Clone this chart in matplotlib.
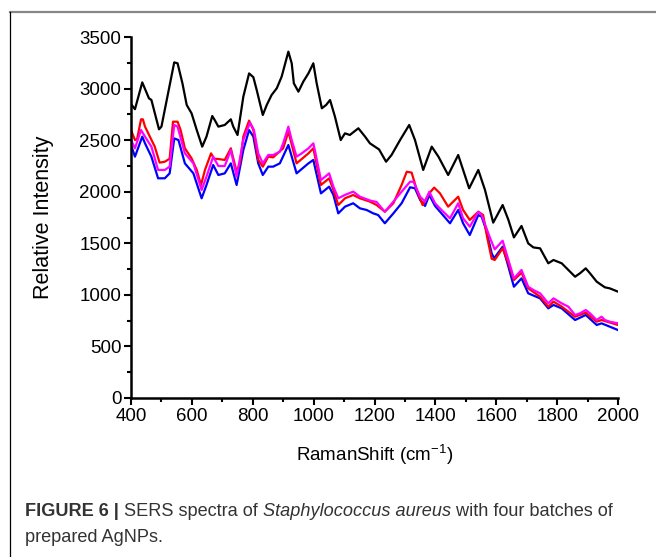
import matplotlib
matplotlib.use("Agg")
import matplotlib.pyplot as plt
from matplotlib.ticker import MultipleLocator
from matplotlib.lines import Line2D

plt.rcParams['font.family'] = ['Liberation Sans', 'DejaVu Sans']
plt.rcParams['mathtext.fontset'] = 'custom'
plt.rcParams['mathtext.rm'] = 'Liberation Sans'
plt.rcParams['mathtext.it'] = 'Liberation Sans:italic'
plt.rcParams['mathtext.bf'] = 'Liberation Sans:bold'

# ---------------- data ----------------
black_x = [400, 413, 437, 459, 467, 492, 500, 542, 553, 569, 583, 599, 616, 634, 648, 667, 675, 687,
           708, 728, 736, 750, 769, 788, 802, 813, 833, 846, 862, 879, 895, 917, 928, 935, 950, 966,
           983, 999, 1010, 1027, 1041, 1054, 1070, 1089, 1103, 1119, 1147, 1169, 1185, 1215, 1238,
           1256, 1284, 1314, 1333, 1360, 1388, 1410, 1442, 1475, 1511, 1541, 1563, 1590, 1621, 1640,
           1658, 1683, 1705, 1722, 1744, 1771, 1788, 1815, 1837, 1859, 1875, 1894, 1908, 1930, 1946,
           1957, 1973, 2000]
black_y = [2850, 2800, 3060, 2905, 2890, 2605, 2631, 3254, 3245, 3051, 2841, 2760, 2598, 2437, 2534,
           2734, 2695, 2631, 2647, 2702, 2631, 2550, 2921, 3147, 3110, 2986, 2744, 2841, 2938, 3003,
           3116, 3358, 3245, 3051, 2970, 3067, 3148, 3245, 3051, 2809, 2841, 2889, 2728, 2501, 2566,
           2550, 2615, 2534, 2469, 2410, 2291, 2356, 2501, 2647, 2501, 2211, 2437, 2340, 2162, 2356,
           2033, 2211, 2017, 1700, 1871, 1726, 1557, 1668, 1499, 1460, 1451, 1306, 1338, 1306, 1241,
           1176, 1209, 1257, 1209, 1128, 1095, 1073, 1063, 1031]

red_x = [400, 413, 420, 433, 439, 446, 462, 478, 494, 511, 527, 538, 553, 563, 577, 599, 616, 630,
         643, 663, 673, 687, 708, 728, 732, 747, 758, 769, 788, 802, 818, 833, 851, 867, 900, 917,
         944, 983, 999, 1024, 1051, 1065, 1081, 1103, 1130, 1152, 1185, 1207, 1234, 1262, 1289,
         1306, 1322, 1339, 1358, 1380, 1396, 1415, 1442, 1475, 1491, 1513, 1541, 1557, 1570, 1585,
         1595, 1621, 1640, 1658, 1683, 1705, 1744, 1771, 1788, 1815, 1859, 1894, 1930, 1946, 2000]
red_y = [2598, 2501, 2510, 2702, 2702, 2631, 2534, 2437, 2282, 2291, 2320, 2679, 2679, 2598, 2421,
         2324, 2211, 2065, 2211, 2372, 2320, 2317, 2308, 2421, 2372, 2194, 2275, 2534, 2689, 2598,
         2308, 2243, 2340, 2333, 2421, 2583, 2275, 2372, 2421, 2065, 2130, 2017, 1871, 1936, 1968,
         1936, 1904, 1871, 1806, 1888, 2065, 2194, 2185, 2017, 1871, 1985, 2040, 1985, 1855, 1952,
         1823, 1726, 1806, 1774, 1560, 1350, 1338, 1451, 1306, 1144, 1215, 1063, 982, 885, 934, 886,
         788, 827, 740, 756, 708]

magenta_x = [400, 413, 433, 446, 467, 489, 511, 527, 542, 553, 577, 605, 632, 648, 670, 687, 708,
             728, 747, 769, 791, 804, 818, 833, 851, 867, 889, 900, 917, 928, 944, 961, 983, 999,
             1005, 1024, 1038, 1051, 1065, 1081, 1103, 1130, 1152, 1185, 1207, 1234, 1262, 1289,
             1317, 1328, 1350, 1366, 1380, 1399, 1420, 1448, 1475, 1491, 1513, 1541, 1552, 1566,
             1580, 1595, 1621, 1640, 1658, 1683, 1705, 1722, 1744, 1771, 1788, 1815, 1837, 1859,
             1875, 1894, 1908, 1930, 1946, 1957, 1973, 2000]
magenta_y = [2501, 2421, 2598, 2534, 2437, 2211, 2211, 2243, 2647, 2631, 2372, 2275, 2017, 2146,
             2340, 2249, 2249, 2404, 2146, 2501, 2670, 2598, 2372, 2275, 2356, 2356, 2388, 2469,
             2631, 2501, 2340, 2372, 2421, 2469, 2390, 2114, 2146, 2178, 2049, 1936, 1969, 2001,
             1952, 1915, 1900, 1806, 1904, 2000, 2097, 2097, 1952, 1904, 2000, 1888, 1823, 1742,
             1888, 1742, 1661, 1806, 1774, 1661, 1548, 1441, 1525, 1338, 1160, 1241, 1079, 1047,
             1015, 918, 966, 918, 885, 805, 821, 853, 821, 756, 788, 756, 740, 724]

blue_x = [400, 413, 437, 446, 467, 489, 511, 527, 542, 556, 577, 605, 632, 648, 670, 687, 708, 728,
          747, 769, 788, 802, 818, 833, 851, 867, 889, 917, 944, 983, 999, 1024, 1051, 1065, 1081,
          1103, 1130, 1152, 1174, 1196, 1212, 1234, 1262, 1289, 1317, 1333, 1350, 1366, 1380, 1399,
          1420, 1448, 1475, 1491, 1513, 1541, 1552, 1567, 1585, 1593, 1621, 1640, 1658, 1683, 1705,
          1744, 1771, 1788, 1815, 1859, 1894, 1930, 1946, 2000]
blue_y = [2453, 2340, 2534, 2469, 2340, 2130, 2130, 2178, 2517, 2501, 2275, 2178, 1936, 2065, 2259,
          2162, 2178, 2275, 2065, 2404, 2598, 2534, 2275, 2162, 2243, 2243, 2275, 2453, 2178, 2275,
          2308, 1984, 2049, 1969, 1790, 1855, 1888, 1839, 1823, 1790, 1774, 1694, 1790, 1888, 2043,
          2033, 1920, 1862, 1968, 1862, 1790, 1694, 1823, 1694, 1580, 1774, 1758, 1629, 1403, 1354,
          1467, 1273, 1079, 1160, 1015, 966, 869, 902, 869, 756, 805, 708, 724, 659]

x_ticks = [400, 600, 800, 1000, 1200, 1400, 1600, 1800, 2000]
y_ticks = [0, 500, 1000, 1500, 2000, 2500, 3000, 3500]

# ---------------- figure ----------------
W, H = 656, 557
fig = plt.figure(figsize=(W / 100, H / 100), dpi=100)
ax = fig.add_axes([131 / W, 1 - 398 / H, (618 - 131) / W, (398 - 37) / H])

ax.plot(black_x, black_y, color='black', lw=1.6)
ax.plot(blue_x, blue_y, color='#0000ff', lw=1.6)
ax.plot(red_x, red_y, color='#ff0000', lw=1.6)
ax.plot(magenta_x, magenta_y, color='#ff00ff', lw=1.6)

ax.set_xlim(400, 2000)
ax.set_ylim(0, 3500)
ax.set_xticks(x_ticks)
ax.set_yticks(y_ticks)
ax.xaxis.set_minor_locator(MultipleLocator(100))
ax.yaxis.set_minor_locator(MultipleLocator(250))
for s in ['top', 'right']:
    ax.spines[s].set_visible(False)
for s in ['left', 'bottom']:
    ax.spines[s].set_linewidth(1.8)
ax.tick_params(which='major', direction='out', length=5, width=1.5, labelsize=13.5, pad=2)
ax.tick_params(which='minor', direction='out', length=3, width=1.5)
ax.set_xlabel('RamanShift (cm$^{\\mathregular{-1}}$)', fontsize=13.5)
ax.set_ylabel('Relative Intensity', fontsize=15.5)
ax.xaxis.set_label_coords(0.5, -0.125)
ax.yaxis.set_label_coords(-0.158, 0.5)

# frame lines
fig.add_artist(Line2D([10 / W, 1], [1 - 12 / H, 1 - 12 / H], color='#888888', lw=1.6,
                      transform=fig.transFigure))
fig.add_artist(Line2D([10 / W, 10 / W], [0, 1 - 12 / H], color='black', lw=0.9,
                      transform=fig.transFigure))

# caption with mixed styles
cap_color = '#333333'
fig.canvas.draw()
renderer = fig.canvas.get_renderer()
x0 = 25 / W
y1 = 1 - 512 / H
parts = [("FIGURE 6 |", 'bold', 'normal'), (" SERS spectra of ", 'normal', 'normal'),
         ("Staphylococcus aureus", 'normal', 'italic'),
         (" with four batches of", 'normal', 'normal')]
xc = x0
for txt, wt, st in parts:
    t = fig.text(xc, y1, txt, fontsize=13.1, fontweight=wt, fontstyle=st, color=cap_color,
                 va='center', ha='left')
    bb = t.get_window_extent(renderer=renderer)
    xc += bb.width / W
fig.text(x0, 1 - 538 / H, "prepared AgNPs.", fontsize=13.1, color=cap_color, va='center', ha='left')

fig.savefig('out.png', dpi=100)
